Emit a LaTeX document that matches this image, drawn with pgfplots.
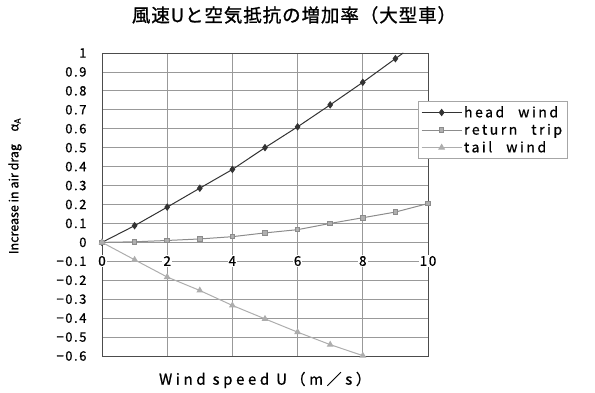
\documentclass[border=0pt]{standalone}
\usepackage{fontspec}
\setmainfont{Noto Sans CJK JP}
\newfontfamily\tickfont[LetterSpace=12,FakeBold=0.8]{Noto Sans CJK JP}
\newfontfamily\labfont[LetterSpace=18,FakeBold=0.8]{Noto Sans CJK JP}
\newfontfamily\xlabfont[LetterSpace=24,FakeBold=0.8]{Noto Sans CJK JP}
\newfontfamily\ylabfont[FakeBold=0.8]{Noto Sans CJK JP}
\newfontfamily\titlefont[LetterSpace=5,FakeBold=1]{Noto Sans CJK JP}
\usepackage{pgfplots}
\pgfplotsset{compat=1.18}
\definecolor{headc}{gray}{0.2}
\definecolor{retc}{gray}{0.55}
\definecolor{tailc}{gray}{0.68}
\begin{document}
\begin{tikzpicture}
\useasboundingbox (-102pt,-36pt) rectangle (493pt,356pt);
\begin{axis}[
  at={(0pt,0pt)}, anchor=south west,
  x=32.6pt, y=189.4pt,
  xmin=0, xmax=10, ymin=-0.6, ymax=1,
  xtick={0,2,4,6,8,10},
  ytick={-0.6,-0.5,-0.4,-0.3,-0.2,-0.1,0,0.1,0.2,0.3,0.4,0.5,0.6,0.7,0.8,0.9,1},
  yticklabels={−0.6,−0.5,−0.4,−0.3,−0.2,−0.1,0,0.1,0.2,0.3,0.4,0.5,0.6,0.7,0.8,0.9,1},
  xticklabels={0,2,4,6,8,10},
  /pgf/number format/assume math mode=true,
  grid=major,
  major grid style={gray!80, line width=0.7pt},
  axis line style={black!70, line width=0.9pt},
  major tick length=0pt,
  yticklabel style={font=\tickfont\fontsize{13}{15}\selectfont, xshift=-12pt},
  xticklabel style={font=\tickfont\fontsize{13.5}{15}\selectfont, anchor=center, yshift=95pt, fill=white, inner sep=1pt},
  legend style={at={(0.969,0.842)}, anchor=north west, draw=gray!70, line width=0.7pt,
    font=\labfont\fontsize{14}{16}\selectfont, inner sep=3pt, row sep=1pt,
    cells={anchor=west}},
  legend cell align=left,
  legend image code/.code={\draw[mark repeat=2,mark phase=2] plot coordinates {(0cm,0cm)(0.7cm,0cm)(1.4cm,0cm)};},
]
\addplot[headc, line width=1pt, mark=diamond*, mark size=3pt,
  mark options={fill=headc, draw=headc}]
  coordinates {(0,0) (1,0.088) (2,0.186) (3,0.286) (4,0.385) (5,0.5) (6,0.61) (7,0.726) (8,0.845) (9,0.97)};
\addlegendentry{head\hspace{1em}wind}
\addplot[retc, line width=1pt, mark=square*, mark size=2.3pt,
  mark options={fill=retc!70, draw=retc}]
  coordinates {(0,0) (1,0.003) (2,0.01) (3,0.018) (4,0.03) (5,0.05) (6,0.067) (7,0.1) (8,0.13) (9,0.16) (10,0.205)};
\addlegendentry{return\hspace{1em}trip}
\addplot[tailc, line width=1pt, mark=triangle*, mark size=3pt,
  mark options={fill=tailc, draw=tailc}]
  coordinates {(0,0) (1,-0.092) (2,-0.183) (3,-0.254) (4,-0.333) (5,-0.404) (6,-0.474) (7,-0.54) (8,-0.598)};
\addlegendentry{tail\hspace{1em}wind}
\addplot[headc, line width=1pt, forget plot] coordinates {(9,0.97) (9.24,1.0)};
\end{axis}
\node[font=\titlefont\fontsize{18.5}{20}\selectfont] at (192pt,341pt) {風速Uと空気抵抗の増加率（大型車）};
\node[font=\xlabfont\fontsize{15}{17}\selectfont] at (163pt,-24pt) {Wind speed U（m／s）};
\node[rotate=90, font=\ylabfont\fontsize{12.5}{14}\selectfont] at (-87pt,170pt) {Increase in air drag\quad α\textsubscript{A}};
\end{tikzpicture}
\end{document}
